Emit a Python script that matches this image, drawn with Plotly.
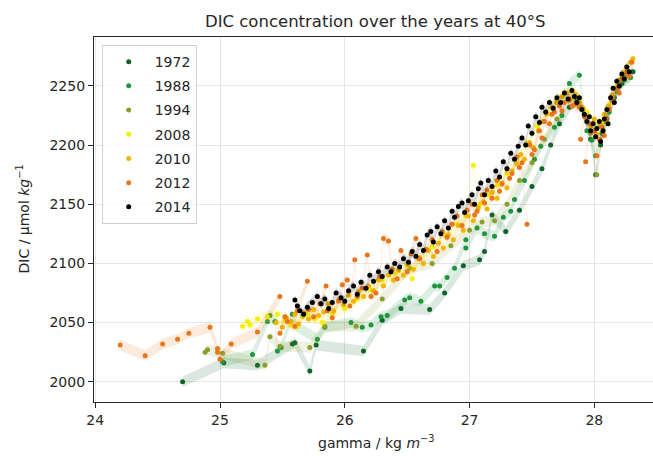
import plotly.graph_objects as go

# ---------------- data ----------------
years = ["1972", "1988", "1994", "2008", "2010", "2012", "2014"]

gamma_1972 = [24.70, 25.03, 25.30, 25.58, 25.60, 25.72, 25.77, 26.15, 26.30, 26.45, 26.68, 26.80,
              26.95, 27.08, 27.12, 27.18, 27.29, 27.40, 27.50, 27.58, 27.65, 27.72, 27.80, 27.86,
              27.92, 27.97, 28.01, 28.05, 28.10, 28.16, 28.22, 28.28, 28.31]
dic_1972 = [2000, 2016, 2014, 2032, 2033, 2009, 2031, 2026, 2052, 2062, 2061, 2075,
            2098, 2103, 2110, 2141, 2127, 2145, 2165, 2180, 2200, 2218, 2232, 2238,
            2225, 2205, 2175, 2200, 2222, 2240, 2252, 2258, 2262]

gamma_1988 = [25.02, 25.26, 25.38, 25.40, 25.44, 25.46, 25.49, 25.58, 25.61, 25.78, 25.84, 26.05,
              26.14, 26.21, 26.29, 26.34, 26.48, 26.52, 26.61, 26.72, 26.76, 26.82, 26.88, 26.97,
              26.97, 27.06, 27.12, 27.20, 27.27, 27.33, 27.36, 27.44, 27.52, 27.57, 27.68, 27.74,
              27.80, 27.88, 27.94, 27.98, 28.01, 28.06, 28.12, 28.18, 28.24, 28.29]
dic_1988 = [2017, 2023, 2051, 2056, 2051, 2026, 2029, 2057, 2047, 2036, 2046, 2050,
            2046, 2048, 2055, 2056, 2069, 2071, 2068, 2081, 2081, 2088, 2096, 2120,
            2113, 2130, 2125, 2123, 2139, 2144, 2154, 2170, 2188, 2199, 2215, 2225,
            2252, 2259, 2212, 2204, 2191, 2210, 2228, 2245, 2255, 2257]

gamma_1994 = [24.88, 24.90, 25.02, 25.36, 25.40, 25.48, 25.72, 25.84, 26.09, 26.30, 26.52, 26.70,
              26.85, 27.00, 27.10, 27.20, 27.30, 27.40, 27.50, 27.60, 27.70, 27.80, 27.90, 27.97,
              28.02, 28.08, 28.15, 28.25]
dic_1994 = [2025, 2027, 2024, 2014, 2038, 2030, 2029, 2047, 2047, 2070, 2096, 2100,
            2115, 2128, 2135, 2136, 2150, 2170, 2185, 2205, 2222, 2238, 2232, 2210,
            2175, 2220, 2240, 2260]

gamma_2008 = [25.18, 25.22, 25.24, 25.30, 25.38, 25.46, 25.52, 25.57, 25.62, 25.66, 25.70, 25.76,
              25.82, 25.90, 26.00, 26.10, 26.20, 26.30, 26.40, 26.50, 26.54, 26.60, 26.70, 26.80,
              26.90, 26.97, 27.03, 27.08, 27.15, 27.22, 27.30, 27.38, 27.46, 27.54, 27.62, 27.70,
              27.76, 27.82, 27.88, 27.94, 28.00, 28.06, 28.12, 28.18, 28.24, 28.30]
dic_2008 = [2047, 2051, 2048, 2053, 2055, 2057, 2052, 2048, 2047, 2055, 2057, 2053,
            2050, 2058, 2062, 2070, 2078, 2086, 2092, 2098, 2087, 2105, 2114, 2124,
            2133, 2140, 2183, 2150, 2158, 2166, 2176, 2188, 2202, 2216, 2228, 2238,
            2243, 2246, 2240, 2228, 2218, 2220, 2234, 2250, 2262, 2271]

gamma_2010 = [25.45, 25.50, 25.53, 25.57, 25.60, 25.63, 25.67, 25.71, 25.75, 25.79, 25.83, 25.87,
              25.91, 25.95, 25.99, 26.03, 26.07, 26.11, 26.15, 26.19, 26.23, 26.27, 26.31, 26.35,
              26.39, 26.43, 26.47, 26.51, 26.55, 26.59, 26.63, 26.67, 26.71, 26.75, 26.79, 26.83,
              26.87, 26.91, 26.95, 26.99, 27.03, 27.07, 27.11, 27.14, 27.18, 27.22, 27.26, 27.30,
              27.34, 27.38, 27.41, 27.44, 27.48, 27.51, 27.55, 27.58, 27.62, 27.66, 27.70, 27.74,
              27.78, 27.81, 27.85, 27.88, 27.91, 27.94, 27.97, 28.00, 28.02, 28.05, 28.08, 28.11,
              28.14, 28.17, 28.20, 28.23, 28.26, 28.29, 28.31]
dic_2010 = [2050, 2046, 2054, 2051, 2057, 2049, 2058, 2053, 2061, 2056, 2059, 2066,
            2060, 2069, 2065, 2073, 2068, 2076, 2072, 2081, 2077, 2086, 2081, 2090,
            2086, 2094, 2090, 2099, 2095, 2104, 2100, 2111, 2106, 2117, 2113, 2124,
            2120, 2132, 2128, 2140, 2136, 2147, 2152, 2146, 2160, 2155, 2168, 2164,
            2178, 2184, 2192, 2188, 2202, 2198, 2212, 2220, 2226, 2232, 2236, 2241,
            2244, 2239, 2243, 2236, 2231, 2224, 2216, 2222, 2209, 2217, 2226, 2233,
            2242, 2248, 2255, 2261, 2266, 2270, 2273]

gamma_2012 = [24.20, 24.40, 24.54, 24.66, 24.75, 24.92, 24.98, 24.98, 25.00, 25.09, 25.30, 25.48,
              25.48, 25.52, 25.54, 25.60, 25.62, 25.70, 25.71, 25.75, 25.80, 25.85, 25.86, 25.90,
              25.95, 25.98, 26.02, 26.04, 26.08, 26.10, 26.14, 26.18, 26.21, 26.25, 26.28, 26.31,
              26.35, 26.38, 26.42, 26.45, 26.50, 26.53, 26.57, 26.60, 26.65, 26.70, 26.74, 26.78,
              26.82, 26.86, 26.90, 26.94, 26.98, 27.02, 27.04, 27.06, 27.10, 27.12, 27.14, 27.18,
              27.22, 27.24, 27.26, 27.30, 27.32, 27.34, 27.38, 27.40, 27.42, 27.46, 27.48, 27.50,
              27.52, 27.56, 27.58, 27.60, 27.64, 27.66, 27.68, 27.72, 27.74, 27.76, 27.80, 27.82,
              27.84, 27.88, 27.89, 27.92, 27.93, 27.96, 27.98, 28.00, 28.02, 28.04, 28.06, 28.08,
              28.10, 28.12, 28.14, 28.18, 28.20, 28.22, 28.26, 28.28, 28.30]
dic_2012 = [2031, 2022, 2032, 2036, 2041, 2046, 2028, 2025, 2019, 2032, 2042, 2072,
            2041, 2055, 2051, 2047, 2060, 2085, 2061, 2055, 2066, 2081, 2060, 2054,
            2068, 2082, 2086, 2064, 2103, 2072, 2079, 2107, 2072, 2075, 2089, 2121,
            2119, 2095, 2087, 2111, 2093, 2108, 2121, 2104, 2112, 2120, 2110, 2127,
            2122, 2133, 2140, 2132, 2145, 2150, 2141, 2144, 2158, 2151, 2162, 2155,
            2170, 2161, 2167, 2180, 2172, 2176, 2190, 2181, 2185, 2133, 2200, 2192,
            2196, 2212, 2206, 2220, 2218, 2226, 2228, 2233, 2229, 2236, 2238, 2233,
            2234, 2232, 2205, 2224, 2186, 2218, 2211, 2212, 2191, 2205, 2215, 2208,
            2222, 2230, 2238, 2248, 2244, 2256, 2262, 2258, 2270]

gamma_2014 = [25.60, 25.62, 25.64, 25.67, 25.70, 25.74, 25.78, 25.81, 25.84, 25.87, 25.90, 25.93,
              25.97, 26.00, 26.03, 26.07, 26.10, 26.13, 26.17, 26.20, 26.23, 26.27, 26.30, 26.34,
              26.37, 26.40, 26.44, 26.47, 26.51, 26.54, 26.57, 26.60, 26.63, 26.66, 26.69, 26.71,
              26.74, 26.77, 26.80, 26.83, 26.86, 26.88, 26.91, 26.94, 26.96, 26.99, 27.02, 27.04,
              27.07, 27.09, 27.12, 27.15, 27.18, 27.21, 27.24, 27.27, 27.30, 27.33, 27.36, 27.39,
              27.42, 27.45, 27.47, 27.50, 27.53, 27.56, 27.58, 27.61, 27.64, 27.67, 27.70, 27.73,
              27.76, 27.79, 27.82, 27.84, 27.86, 27.88, 27.90, 27.92, 27.94, 27.96, 27.97, 27.99,
              28.01, 28.02, 28.04, 28.05, 28.07, 28.08, 28.10, 28.11, 28.13, 28.15, 28.16, 28.18,
              28.20, 28.22, 28.24, 28.26, 28.28]
dic_2014 = [2069, 2064, 2060, 2057, 2063, 2067, 2072, 2066, 2070, 2062, 2067, 2075,
            2071, 2068, 2077, 2081, 2074, 2084, 2079, 2090, 2085, 2093, 2089, 2097,
            2093, 2100, 2097, 2104, 2101, 2110, 2106, 2116, 2111, 2124, 2127, 2118,
            2131, 2125, 2136, 2130, 2144, 2139, 2148, 2151, 2143, 2153, 2158, 2150,
            2163, 2168, 2158, 2170, 2165, 2178, 2173, 2186, 2180, 2193, 2188, 2199,
            2206, 2200, 2216, 2210, 2224, 2219, 2232, 2228, 2236, 2231, 2240, 2236,
            2244, 2239, 2246, 2241, 2236, 2240, 2230, 2226, 2220, 2224, 2212, 2218,
            2207, 2214, 2220, 2203, 2212, 2222, 2230, 2218, 2240, 2248, 2236, 2254,
            2250, 2260, 2256, 2266, 2262]

DIC_ERR = 4.5  # half-width of the shaded uncertainty band

series = {
    "1972": (gamma_1972, dic_1972),
    "1988": (gamma_1988, dic_1988),
    "1994": (gamma_1994, dic_1994),
    "2008": (gamma_2008, dic_2008),
    "2010": (gamma_2010, dic_2010),
    "2012": (gamma_2012, dic_2012),
    "2014": (gamma_2014, dic_2014),
}

colors = {
    "1972": (14, 100, 40),
    "1988": (30, 150, 60),
    "1994": (140, 158, 46),
    "2008": (245, 240, 0),
    "2010": (242, 180, 0),
    "2012": (232, 118, 26),
    "2014": (0, 0, 0),
}

FONT = "DejaVu Sans"
fig = go.Figure()

for yr in years:
    g, d = series[yr]
    r, gg, b = colors[yr]
    upper = [v + DIC_ERR for v in d]
    lower = [v - DIC_ERR for v in d]
    fig.add_trace(go.Scatter(
        x=g + g[::-1], y=upper + lower[::-1],
        fill="toself", fillcolor=f"rgba({r},{gg},{b},0.15)",
        line=dict(width=0), mode="lines", hoverinfo="skip",
        showlegend=False, legendgroup=yr,
    ))
    fig.add_trace(go.Scatter(
        x=g, y=d, mode="markers", name=yr, legendgroup=yr,
        marker=dict(size=5, color=f"rgb({r},{gg},{b})", line=dict(width=0)),
    ))

axis_common = dict(
    showgrid=True, gridcolor="#e6e6e6", gridwidth=1,
    showline=True, linecolor="#262626", linewidth=1.2,
    ticks="outside", ticklen=5, tickwidth=1, tickcolor="#262626",
    zeroline=False,
    tickfont=dict(family=FONT, size=14, color="#262626"),
)

fig.update_layout(
    width=653, height=459,
    margin=dict(l=94, r=0, t=37, b=57),
    paper_bgcolor="white", plot_bgcolor="white",
    font=dict(family=FONT, size=14, color="#262626"),
    title=dict(text="DIC concentration over the years at 40°S",
               font=dict(family=FONT, size=16.5, color="#262626"),
               x=0.503, xref="paper", xanchor="center",
               y=1 - 21 / 459, yref="container", yanchor="middle"),
    xaxis=dict(range=[23.99, 28.47], tickvals=[24, 25, 26, 27, 28], mirror=True,
               **axis_common),
    yaxis=dict(range=[1982.9, 2291.3], tickvals=[2000, 2050, 2100, 2150, 2200, 2250],
               mirror=False, **axis_common),
    legend=dict(x=0.0138, y=0.978, xanchor="left", yanchor="top",
                bgcolor="rgba(255,255,255,0.8)", bordercolor="#d0d0d0", borderwidth=1,
                font=dict(family=FONT, size=14, color="#262626"),
                traceorder="grouped", tracegroupgap=3, itemwidth=42),
    annotations=[
        dict(text="gamma / kg <i>m</i><sup>−3</sup>", xref="paper", yref="paper",
             x=0.5045, y=(402 - 442) / 365, xanchor="center", yanchor="middle",
             showarrow=False, font=dict(family=FONT, size=14, color="#262626")),
        dict(text="DIC / μmol <i>kg</i><sup>−1</sup>", xref="paper", yref="paper",
             x=(23 - 94) / 559, y=0.5, xanchor="center", yanchor="middle",
             textangle=-90, showarrow=False,
             font=dict(family=FONT, size=14, color="#262626")),
    ],
)

fig.write_html("out.html")
